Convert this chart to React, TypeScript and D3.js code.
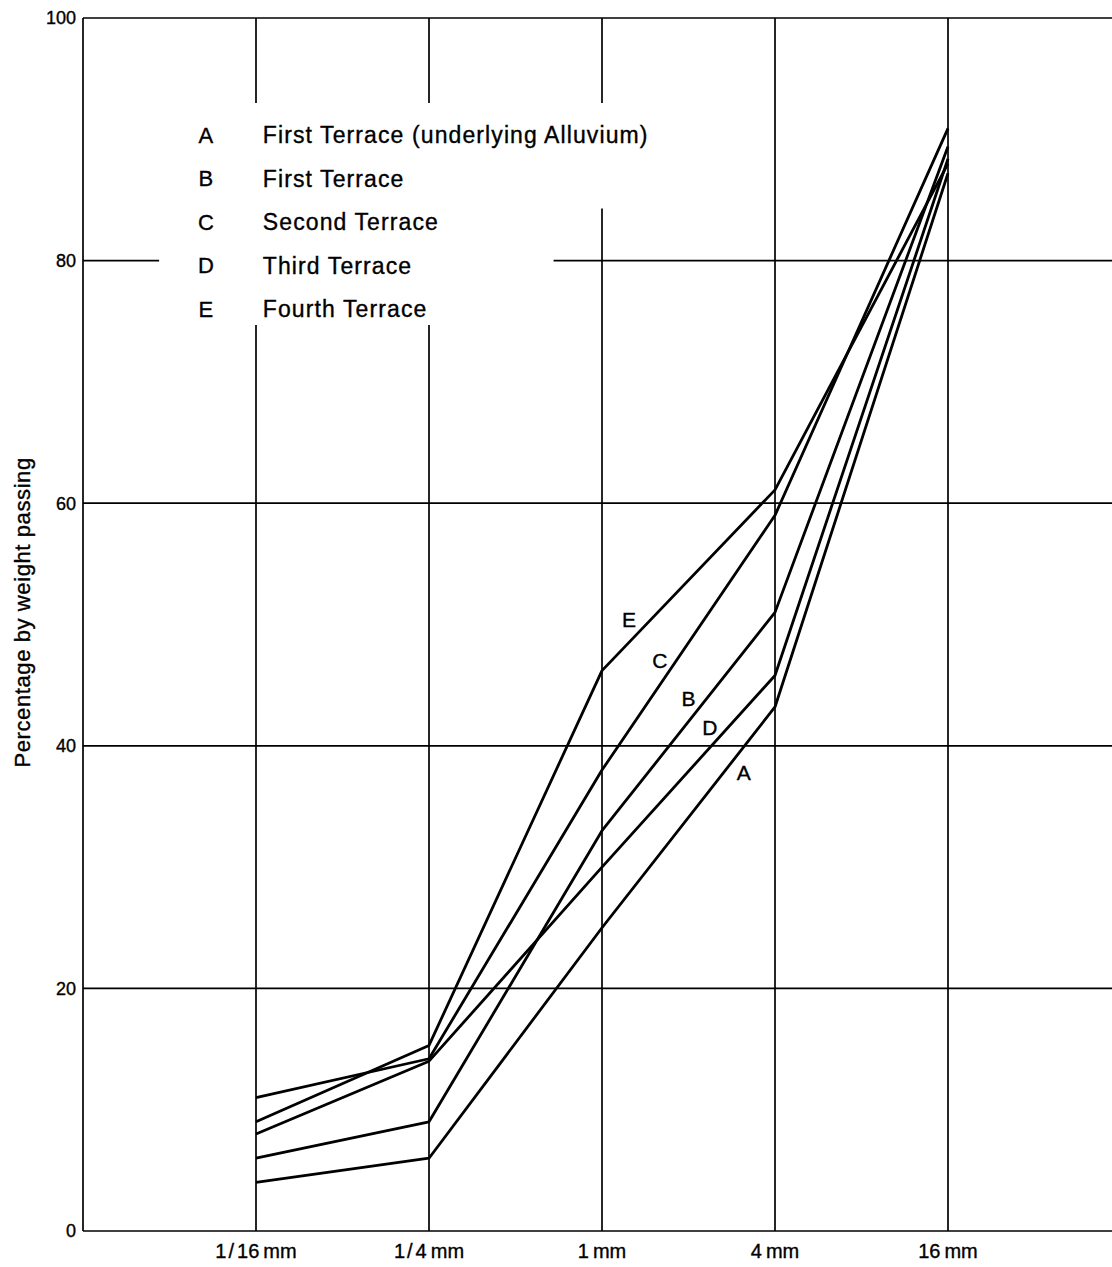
import * as d3 from "d3";

const WIDTH = 1112;
const HEIGHT = 1267;
const MARGIN = { top: 18, right: -9, bottom: 36, left: 83 };

// sieve sizes (x categories), number part and unit
const sizes = ["1/16", "1/4", "1", "4", "16"];
const unit = "mm";
const yTicks = [0, 20, 40, 60, 80, 100];

// percentage by weight passing, one array per terrace
const seriesA = [4, 6, 25, 43.2, 87.2];
const seriesB = [6, 9, 33, 51, 89.4];
const seriesC = [11, 14.2, 38, 59, 90.9];
const seriesD = [8, 14, 30, 45.8, 88.4];
const seriesE = [9, 15.3, 46.2, 61.1, 88];

const keys = ["A", "B", "C", "D", "E"];
const legendLabels = [
  "First Terrace (underlying Alluvium)",
  "First Terrace",
  "Second Terrace",
  "Third Terrace",
  "Fourth Terrace",
];
// where the letter tags sit on the curves (category index, percent)
const tagX = [2.82, 2.5, 2.335, 2.624, 2.156];
const tagY = [37.8, 43.9, 47.0, 41.5, 50.4];

const FONT = "'Liberation Sans', Arial, sans-serif";
const NARROW = "'Liberation Sans Narrow', 'Liberation Sans', Arial, sans-serif";

export default function App() {
  const boundsW = WIDTH - MARGIN.left - MARGIN.right;
  const boundsH = HEIGHT - MARGIN.top - MARGIN.bottom;

  // one category step on each side of the data
  const x = d3.scaleLinear().domain([-1, 5]).range([0, boundsW]);
  const y = d3.scaleLinear().domain([0, 100]).range([boundsH, 0]);

  const all = [seriesA, seriesB, seriesC, seriesD, seriesE];
  const line = d3
    .line<number>()
    .x((_, i) => x(i))
    .y((d) => y(d));

  const right = WIDTH - MARGIN.left + 20;
  const ink = { stroke: "#000", strokeWidth: 0.35 };

  return (
    <svg
      width={WIDTH}
      height={HEIGHT}
      style={{ position: "absolute", left: 0, top: 0, background: "#fff" }}
      fontFamily={FONT}
    >
      <g transform={`translate(${MARGIN.left},${MARGIN.top})`}>
        {/* horizontal grid */}
        {yTicks.map((t) => (
          <line
            key={"h" + t}
            x1={0}
            x2={right}
            y1={y(t)}
            y2={y(t)}
            stroke="#000"
            strokeWidth={1.7}
          />
        ))}
        {/* vertical grid */}
        {sizes.map((s, i) => (
          <line
            key={"v" + s}
            x1={x(i)}
            x2={x(i)}
            y1={y(0)}
            y2={y(100)}
            stroke="#000"
            strokeWidth={1.7}
          />
        ))}
        <line x1={0} x2={0} y1={y(0)} y2={y(100)} stroke="#000" strokeWidth={1.7} />

        {/* blank area behind the legend */}
        <path
          d={`M${x(-0.56)},${y(93)} H${x(2.35)} V${y(84.3)} H${x(1.72)} V${y(74.7)} H${x(-0.56)} Z`}
          fill="#fff"
        />

        {/* y tick labels */}
        {yTicks.map((t) => (
          <text
            key={"yl" + t}
            x={-7}
            y={y(t)}
            dy="0.35em"
            textAnchor="end"
            fontSize={18}
            fontFamily={NARROW}
            {...ink}
          >
            {t}
          </text>
        ))}

        {/* x tick labels */}
        {sizes.map((s, i) => (
          <text
            key={"xl" + s}
            x={x(i)}
            y={y(0) + 27}
            textAnchor="middle"
            fontSize={20}
            {...ink}
          >
            {s.includes("/") ? (
              <>
                {s.split("/")[0]}
                <tspan dx={2}>/</tspan>
                <tspan dx={3}>{s.split("/")[1]}</tspan>
              </>
            ) : (
              s
            )}
            <tspan dx={4}>{unit}</tspan>
          </text>
        ))}

        {/* data */}
        {all.map((d, i) => (
          <path
            key={keys[i]}
            d={line(d) ?? ""}
            fill="none"
            stroke="#000"
            strokeWidth={2.8}
            strokeLinejoin="round"
          />
        ))}

        {/* tags on curves */}
        {keys.map((k, i) => (
          <text
            key={"tag" + k}
            x={x(tagX[i])}
            y={y(tagY[i])}
            dy="0.36em"
            textAnchor="middle"
            fontSize={21}
            {...ink}
          >
            {k}
          </text>
        ))}

        {/* legend */}
        {keys.map((k, i) => (
          <g key={"lg" + k} transform={`translate(${x(-0.29)},${y(93) + 32 + i * 43.5})`}>
            <text x={0} y={0} dy="0.36em" textAnchor="middle" fontSize={22} {...ink}>
              {k}
            </text>
            <text x={57} y={0} dy="0.36em" fontSize={23} letterSpacing={1.1} {...ink}>
              {legendLabels[i]}
            </text>
          </g>
        ))}
      </g>

      {/* y axis title */}
      <text
        transform={`translate(30,${MARGIN.top + y(51)}) rotate(-90)`}
        textAnchor="middle"
        fontSize={22}
        letterSpacing={0.6}
        {...ink}
      >
        Percentage by weight passing
      </text>
    </svg>
  );
}
